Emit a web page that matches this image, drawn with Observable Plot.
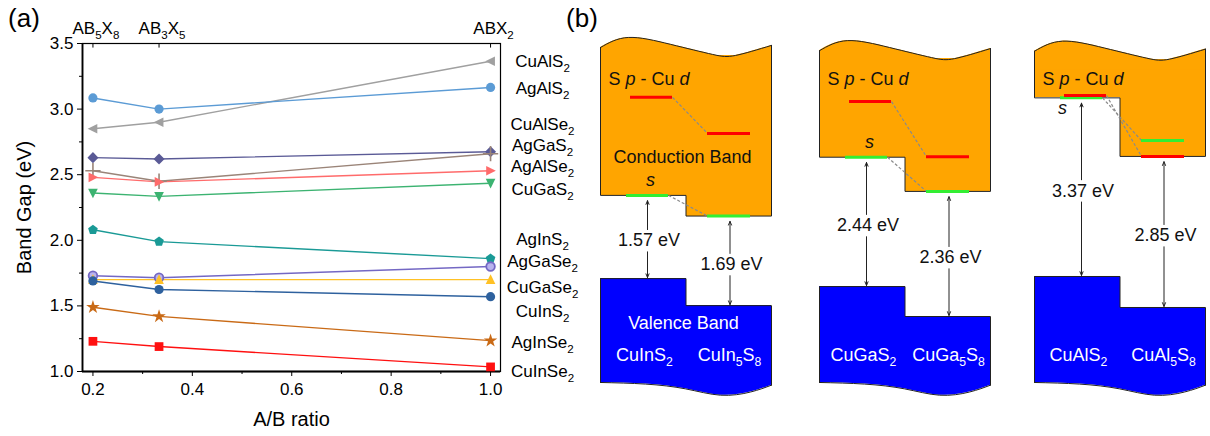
<!DOCTYPE html>
<html>
<head>
<meta charset="utf-8">
<script src="https://cdn.jsdelivr.net/npm/d3@7"></script>
<script src="https://cdn.jsdelivr.net/npm/@observablehq/plot@0.6"></script>
<style>
  body { margin: 0; background: white; }
  #wrap { position: relative; width: 1210px; height: 436px; overflow: hidden; font-family: "Liberation Sans", Arial, sans-serif; }
  #pa, #pb { position: absolute; top: 0; }
  #pa { left: 0; }
  #pb { left: 555px; }
  svg { overflow: visible; }
</style>
</head>
<body>
<div id="wrap"><div id="pa"></div><div id="pb"></div></div>
<script>
// ---------------- Panel (a) data ----------------
const ratio = [0.2, 0.333, 1.0];
const structureLabels = ["AB_5X_8", "AB_3X_5", "ABX_2"];
const compounds = ["CuAlS2","AgAlS2","AgGaS2","CuAlSe2","AgAlSe2","CuGaS2","AgInS2","AgGaSe2","CuGaSe2","CuInS2","AgInSe2","CuInSe2"];
const compoundLabels = ["CuAlS_2","AgAlS_2","CuAlSe_2","AgGaS_2","AgAlSe_2","CuGaS_2","AgInS_2","AgGaSe_2","CuGaSe_2","CuInS_2","AgInSe_2","CuInSe_2"];
const compoundLabelY = [3.36, 3.157, 2.885, 2.72, 2.56, 2.387, 2.006, 1.835, 1.64, 1.46, 1.218, 0.997];
const gapCuAlS2  = [2.85, 2.90, 3.365];
const gapAgAlS2  = [3.085, 3.00, 3.165];
const gapAgGaS2  = [2.63, 2.62, 2.675];
const gapCuAlSe2 = [2.53, 2.45, 2.66];
const gapAgAlSe2 = [2.48, 2.445, 2.53];
const gapCuGaS2  = [2.36, 2.335, 2.435];
const gapAgInS2  = [2.08, 1.99, 1.86];
const gapAgGaSe2 = [1.73, 1.715, 1.80];
const gapCuGaSe2 = [1.70, 1.70, 1.70];
const gapCuInS2  = [1.69, 1.625, 1.57];
const gapAgInSe2 = [1.49, 1.42, 1.235];
const gapCuInSe2 = [1.23, 1.19, 1.035];
const series = [gapCuAlS2, gapAgAlS2, gapAgGaS2, gapCuAlSe2, gapAgAlSe2, gapCuGaS2, gapAgInS2, gapAgGaSe2, gapCuGaSe2, gapCuInS2, gapAgInSe2, gapCuInSe2];
const colors = ["#A0A0A0","#5B9BD5","#5A5A96","#9A8478","#FF6B6B","#3CB371","#1A9A96","#7468C4","#FFC125","#2E619E","#C96A16","#FF1010"];
const xTicks = [0.2, 0.4, 0.6, 0.8, 1.0];
const xMinor = [0.3, 0.5, 0.7, 0.9];
const yTicks = [1.0, 1.5, 2.0, 2.5, 3.0, 3.5];
const yMinor = [1.25, 1.75, 2.25, 2.75, 3.25];
const xDomain = [0.179, 1.02];
const yDomain = [1.0, 3.5];

// ---------------- Panel (b) data ----------------
const leftCompounds  = ["CuInS_2", "CuGaS_2", "CuAlS_2"];
const rightCompounds = ["CuIn_5S_8", "CuGa_5S_8", "CuAl_5S_8"];
const gapLeft  = [1.57, 2.44, 3.37];
const gapRight = [1.69, 2.36, 2.85];
const vbmLeft  = [2.30, 2.15, 2.34];
const vbmRight = [1.79, 1.585, 1.755];
const pdLeft   = [5.72, 5.64, 5.755];
const pdRight  = [5.04, 4.60, 4.605];
const sRightAbove = [0, 0, 0.30];  // s level of the right compound relative to its CBM
const topE    = [6.66, 6.60, 6.59];
const bottomE = [0.34, 0.34, 0.34];

// ---------------- layout / symbols ----------------
const FONT = "'Liberation Sans', Arial, sans-serif";
function poly(c, pts) { c.moveTo(pts[0][0], pts[0][1]); for (const p of pts.slice(1)) c.lineTo(p[0], p[1]); c.closePath(); }
const R = s => Math.sqrt(s / Math.PI);
const symLeft  = {draw(c, s) { const r = R(s); poly(c, [[-1.15*r,0],[0.95*r,-1.05*r],[0.95*r,1.05*r]]); }};
const symRight = {draw(c, s) { const r = R(s); poly(c, [[1.15*r,0],[-0.95*r,-1.05*r],[-0.95*r,1.05*r]]); }};
const symDown  = {draw(c, s) { const r = R(s); poly(c, [[0,1.15*r],[-1.05*r,-0.95*r],[1.05*r,-0.95*r]]); }};
const symUp    = {draw(c, s) { const r = R(s); poly(c, [[0,-1.15*r],[-1.05*r,0.95*r],[1.05*r,0.95*r]]); }};
const symPent  = {draw(c, s) { const r = R(s)*1.1; poly(c, d3.range(5).map(k => [r*Math.cos(-Math.PI/2 + k*2*Math.PI/5), r*Math.sin(-Math.PI/2 + k*2*Math.PI/5)])); }};
const symDiam  = {draw(c, s) { const r = R(s)*1.2; poly(c, [[0,-r],[r,0],[0,r],[-r,0]]); }};
const symSq    = {draw(c, s) { const r = R(s)*0.95; poly(c, [[-r,-r],[r,-r],[r,r],[-r,r]]); }};
const symStar  = {draw(c, s) { d3.symbolStar.draw(c, s*0.85); }};
const symCirc  = {draw(c, s) { const r = R(s); c.moveTo(r,0); c.arc(0,0,r,0,2*Math.PI); }};
const symbols = [symLeft, symCirc, symDiam, "plus", symRight, symDown, symPent, symCirc, symUp, symCirc, symStar, symSq];

const rows = compounds.flatMap((c, i) => ratio.map((r, j) => ({compound: c, ratio: r, gap: series[i][j]})));

const dotMarks = compounds.map((c, i) => {
  const data = rows.filter(d => d.compound === c);
  if (symbols[i] === "plus") return Plot.dot(data, {x: "ratio", y: "gap", symbol: "plus", stroke: colors[i], strokeWidth: 1.6, r: 5});
  if (c === "AgGaSe2") return Plot.dot(data, {x: "ratio", y: "gap", symbol: symbols[i], fill: "#B9B3EE", stroke: colors[i], strokeWidth: 1.8, r: 4.3});
  return Plot.dot(data, {x: "ratio", y: "gap", symbol: symbols[i], fill: colors[i], r: 4.6});
});

const labelRows = compoundLabels.map((t, i) => ({t, y: compoundLabelY[i]}));

const plotA = Plot.plot({
  width: 555, height: 436,
  marginLeft: 82, marginRight: 55, marginTop: 43, marginBottom: 65,
  style: {fontFamily: FONT, fontSize: "17px", background: "transparent", overflow: "visible", color: "black"},
  x: {domain: xDomain},
  y: {domain: yDomain},
  color: {domain: compounds, range: colors},
  marks: [
    Plot.frame({stroke: "black", strokeWidth: 1.2}),
    Plot.ruleX([xDomain[0]], {stroke: "black", strokeWidth: 1.8}),
    Plot.ruleY([yDomain[0]], {stroke: "black", strokeWidth: 1.8}),
    Plot.axisY({ticks: yTicks, tickFormat: ".1f", tickSize: 5, tickPadding: 4, label: null, fontSize: 17}),
    Plot.axisY({ticks: yMinor, tickFormat: () => "", tickSize: 3, label: null}),
    Plot.axisX({ticks: xTicks, tickFormat: ".1f", tickSize: 5, tickPadding: 6, label: null, fontSize: 17}),
    Plot.axisX({ticks: xMinor, tickFormat: () => "", tickSize: 3, label: null}),
    Plot.ruleX(ratio, {y1: yDomain[1], y2: yDomain[1] - 0.035, stroke: "black", strokeWidth: 1}),
    Plot.text(structureLabels, {x: (d, i) => ratio[i], frameAnchor: "top", textAnchor: "middle", lineAnchor: "middle", dy: -15, dx: 3, fontSize: 17}),
    Plot.line(rows, {x: "ratio", y: "gap", z: "compound", stroke: "compound", strokeWidth: 1.4}),
    ...dotMarks,
    Plot.text(labelRows, {y: "y", text: "t", frameAnchor: "right", textAnchor: "middle", lineAnchor: "middle", dx: 42, fontSize: 17}),
    Plot.text(["Band Gap (eV)"], {frameAnchor: "left", textAnchor: "middle", lineAnchor: "middle", dx: -58, rotate: -90, fontSize: 20}),
    Plot.text(["A/B ratio"], {frameAnchor: "bottom", textAnchor: "middle", lineAnchor: "middle", dy: 48, fontSize: 20}),
    Plot.text(["(a)"], {frameAnchor: "top-left", textAnchor: "middle", lineAnchor: "middle", dx: -58.5, dy: -25, fontSize: 26})
  ]
});

// ---------------- Panel (b) ----------------
const panelLeft = [45, 264, 479];
const W = 171, STEP = 85.5;
const waveTopDx = [0, 28, 70, 112, 135, 171];
const waveTopDE = [0, 0.19, 0.06, -0.13, -0.15, 0.04];
const waveBotDx = [0, 45, 85, 120, 150, 171];
const waveBotDE = [0, -0.03, -0.12, -0.24, -0.18, -0.05];

const ORANGE = "#FFA500", BLUE = "#0000FF", EDGE = "#222", RED = "#FF0000", GREEN = "#33EE33";
const bMarks = [];
panelLeft.forEach((L, i) => {
  const M = L + STEP, Rr = L + W;
  const cbmL = vbmLeft[i] + gapLeft[i];
  const cbmR = vbmRight[i] + gapRight[i];
  const sL = cbmL, sR = cbmR + sRightAbove[i];
  const top = waveTopDx.map((dx, k) => ({x: L + dx, y: topE[i] + waveTopDE[k], lo: topE[i] - 0.35}));
  const bot = waveBotDx.map((dx, k) => ({x: L + dx, y: bottomE[i] + waveBotDE[k], hi: bottomE[i] + 0.35}));
  // orange conduction band
  bMarks.push(Plot.rect([{x1: L, x2: M, y1: cbmL, y2: topE[i] - 0.15}, {x1: M, x2: Rr, y1: cbmR, y2: topE[i] - 0.15}], {x1: "x1", x2: "x2", y1: "y1", y2: "y2", fill: ORANGE, shapeRendering: "crispEdges"}));
  bMarks.push(Plot.area(top, {x1: "x", y1: "lo", y2: "y", curve: "natural", fill: ORANGE}));
  bMarks.push(Plot.line(top, {x: "x", y: "y", curve: "natural", stroke: EDGE, strokeWidth: 1}));
  bMarks.push(Plot.line([{x: L, y: top[0].y}, {x: L, y: cbmL}, {x: M, y: cbmL}, {x: M, y: cbmR}, {x: Rr, y: cbmR}, {x: Rr, y: top[top.length-1].y}], {x: "x", y: "y", stroke: EDGE, strokeWidth: 1}));
  // blue valence band
  bMarks.push(Plot.rect([{x1: L, x2: M, y1: bottomE[i] + 0.15, y2: vbmLeft[i]}, {x1: M, x2: Rr, y1: bottomE[i] + 0.15, y2: vbmRight[i]}], {x1: "x1", x2: "x2", y1: "y1", y2: "y2", fill: BLUE, shapeRendering: "crispEdges"}));
  bMarks.push(Plot.area(bot, {x1: "x", y1: "y", y2: "hi", curve: "natural", fill: BLUE}));
  bMarks.push(Plot.line(bot, {x: "x", y: "y", curve: "natural", stroke: EDGE, strokeWidth: 1}));
  bMarks.push(Plot.line([{x: L, y: bot[0].y}, {x: L, y: vbmLeft[i]}, {x: M, y: vbmLeft[i]}, {x: M, y: vbmRight[i]}, {x: Rr, y: vbmRight[i]}, {x: Rr, y: bot[bot.length-1].y}], {x: "x", y: "y", stroke: EDGE, strokeWidth: 1}));
  // dashed correlation lines
  bMarks.push(Plot.link([{x1: L + 72, y1: pdLeft[i], x2: L + 107, y2: pdRight[i]}, {x1: L + 68, y1: sL, x2: L + 107, y2: sR}], {x1: "x1", y1: "y1", x2: "x2", y2: "y2", stroke: "#8a8a8a", strokeWidth: 1.2, strokeDasharray: "3,2"}));
  // levels
  bMarks.push(Plot.ruleY([sL], {x1: L + 26, x2: L + 68, stroke: GREEN, strokeWidth: 3}));
  bMarks.push(Plot.ruleY([pdLeft[i]], {x1: L + 30, x2: L + 72, stroke: RED, strokeWidth: 3}));
  bMarks.push(Plot.ruleY([sR], {x1: L + 107, x2: L + 150, stroke: GREEN, strokeWidth: 3}));
  bMarks.push(Plot.ruleY([pdRight[i]], {x1: L + 107, x2: L + 150, stroke: RED, strokeWidth: 3}));
  // gap arrows + labels
  const gaps = [[L + 47, vbmLeft[i], cbmL, gapLeft[i]], [L + 129.5, vbmRight[i], cbmR, gapRight[i]]];
  gaps.forEach(([x, v, c, g]) => {
    const mid = (v + c) / 2 - 0.07;
    bMarks.push(Plot.arrow([{x1: x, y1: mid + 0.21, x2: x, y2: c - 0.1}, {x1: x, y1: mid - 0.21, x2: x, y2: v + 0.02}], {x1: "x1", y1: "y1", x2: "x2", y2: "y2", stroke: EDGE, strokeWidth: 1, headLength: 6, headAngle: 45}));
    bMarks.push(Plot.text([g.toFixed(2) + " eV"], {x: x + 1.5, y: mid, fontSize: 18, fill: "#111"}));
  });
  // texts
  bMarks.push(Plot.text(["S *p* - Cu *d*"], {x: L + 8, y: 6.07, textAnchor: "start", fontSize: 18, fill: "#111"}));
  const sx = i === 2 ? L + 28 : L + 50;
  const sy = i === 2 ? cbmL - 0.2 : cbmL + 0.29;
  bMarks.push(Plot.text(["*s*"], {x: sx, y: sy, fontSize: 18, fill: "#111"}));
  bMarks.push(Plot.text([leftCompounds[i]], {x: L + 44, y: 0.86, fontSize: 18, fill: "white"}));
  bMarks.push(Plot.text([rightCompounds[i]], {x: L + 129, y: 0.86, fontSize: 18, fill: "white"}));
  if (i === 0) {
    bMarks.push(Plot.text(["Conduction Band"], {x: L + 82, y: 4.585, fontSize: 18, fill: "#111"}));
    bMarks.push(Plot.text(["Valence Band"], {x: L + 83, y: 1.453, fontSize: 18, fill: "white"}));
  }
});
bMarks.push(Plot.text(["(b)"], {frameAnchor: "top-left", textAnchor: "middle", lineAnchor: "middle", dx: 26.5, dy: 18, fontSize: 26}));

const plotB = Plot.plot({
  width: 655, height: 436,
  margin: 0,
  style: {fontFamily: FONT, fontSize: "18px", background: "transparent", overflow: "visible", color: "black"},
  x: {domain: [0, 655], axis: null},
  y: {domain: [-0.679, 7.547], axis: null},
  marks: bMarks
});

document.getElementById("pa").appendChild(plotA);
document.getElementById("pb").appendChild(plotB);

// rich text: "_x" => subscript, "*...*" => italic
function richify(svg) {
  svg.querySelectorAll("text").forEach(t => {
    const s = t.textContent;
    if (!/[_*]/.test(s)) return;
    const fs = parseFloat(getComputedStyle(t).fontSize) || 17;
    const segs = [];
    let italic = false, buf = "";
    const flush = () => { if (buf) segs.push({text: buf, sub: false, italic}); buf = ""; };
    for (let k = 0; k < s.length; k++) {
      const ch = s[k];
      if (ch === "*") { flush(); italic = !italic; }
      else if (ch === "_") { flush(); segs.push({text: s[k + 1], sub: true, italic}); k++; }
      else buf += ch;
    }
    flush();
    while (t.firstChild) t.removeChild(t.firstChild);
    let shifted = false;
    const shift = 0.3 * fs;
    for (const sg of segs) {
      const ts = document.createElementNS("http://www.w3.org/2000/svg", "tspan");
      ts.textContent = sg.text;
      if (sg.italic) ts.setAttribute("font-style", "italic");
      if (sg.sub) {
        ts.setAttribute("font-size", (0.68 * fs) + "px");
        if (!shifted) { ts.setAttribute("dy", shift); shifted = true; }
      } else if (shifted) {
        ts.setAttribute("dy", -shift); shifted = false;
      }
      t.appendChild(ts);
    }
  });
}
richify(plotA);
richify(plotB);
</script>
</body>
</html>
